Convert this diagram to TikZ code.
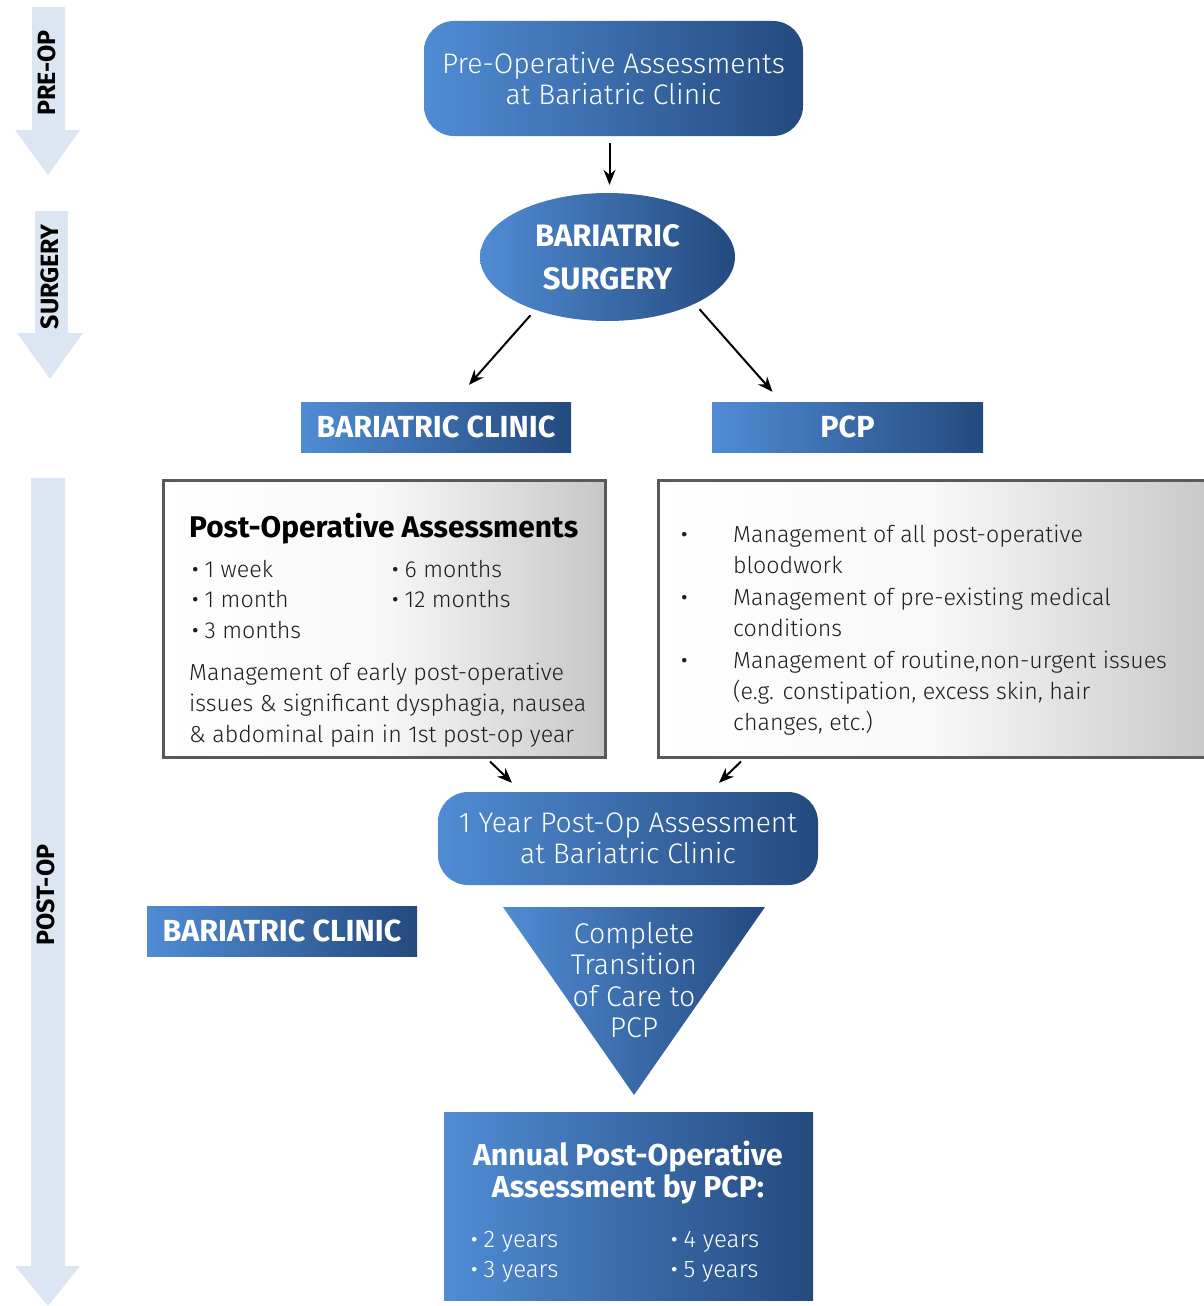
\documentclass[tikz,border=0pt]{standalone}
\usepackage{fontspec}
\usetikzlibrary{shapes.geometric,arrows.meta}
\IfFontExistsTF{Fira Sans Light}{\newfontfamily\lt{Fira Sans Light}}{\newfontfamily\lt{Fira Sans}}
\newfontfamily\sidefam{Fira Sans}
\newcommand\bd{\sidefam\bfseries}
\definecolor{blueL}{RGB}{80,140,212}
\definecolor{blueR}{RGB}{36,74,126}
\definecolor{sidec}{RGB}{220,230,242}
\definecolor{boxgray}{RGB}{89,89,89}
\definecolor{textc}{RGB}{30,30,30}
\newcommand\bul{{\sidefam\fontsize{20}{20}\selectfont\raisebox{1pt}{•}}\hspace{6pt}}
\begin{document}
\begin{tikzpicture}[x=1pt,y=-1pt,
  bluegrad/.style={left color=blueL,right color=blueR,draw=none},
  roundbox/.style={bluegrad,rounded corners=30pt,inner sep=0pt,text=white,align=center,
     font=\lt\fontsize{28.3}{31.5}\selectfont},
  flatbox/.style={bluegrad,inner sep=0pt,text=white,align=center,font=\bd\fontsize{30.5}{32}\selectfont},
  graybox/.style={draw=boxgray,line width=3pt,left color=white,right color=black!22,middle color=black!3,inner sep=0pt},
  sidelbl/.style={rotate=90,inner sep=0pt,font=\sidefam\bfseries\fontsize{25}{25}\selectfont,text=black},
  conn/.style={-{Stealth[length=15pt,width=12pt]},line width=2pt},
  txt/.style={anchor=base west,inner sep=0pt,font=\lt\fontsize{23.2}{31.5}\selectfont,text=textc},
  wtxt/.style={anchor=base west,inner sep=0pt,font=\lt\fontsize{24}{31.5}\selectfont,text=white}]
\path[use as bounding box] (0,0) rectangle (1204,1306);
\clip (0,0) rectangle (1204,1306);
% side arrows
\fill[sidec] (32,7) -- (65,7) -- (65,130) -- (80,130) -- (48,175) -- (15,130) -- (32,130) -- cycle;
\fill[sidec] (35,211) -- (68,211) -- (68,333) -- (83,333) -- (50,379) -- (17,333) -- (35,333) -- cycle;
\fill[sidec] (31,478) -- (65,478) -- (65,1266) -- (80,1266) -- (48,1306) -- (15,1266) -- (31,1266) -- cycle;
\node[sidelbl] (lpre) at (47,73) {PRE-OP};
\node[sidelbl] (lsurg) at (50,277) {SURGERY};
\node[sidelbl] (lpost) at (46,895) {POST-OP};
% top
\node[roundbox,minimum width=379pt,minimum height=115pt] (pre) at (613.5,78.5) {\raisebox{-2pt}{Pre-Operative Assessments}\\\raisebox{-2pt}{at Bariatric Clinic}};
\node[ellipse,bluegrad,minimum width=255pt,minimum height=128pt,inner sep=0pt,text=white,align=center,
  font=\bd\fontsize{31}{43}\selectfont] (surg) at (607.5,257) {BARIATRIC\\SURGERY};
\node[flatbox,minimum width=270pt,minimum height=50pt] (bc1) at (436,427) {BARIATRIC CLINIC};
\node[flatbox,minimum width=271pt,minimum height=50pt] (pcp) at (847.5,427) {PCP};
\draw[conn] ([xshift=-4pt,yshift=-7pt]pre.south) -- ([xshift=2pt,yshift=8pt]surg.north);
\draw[conn] ([xshift=-77pt,yshift=6pt]surg.south) -- ([xshift=33pt,yshift=17pt]bc1.north);
\draw[conn] ([xshift=92pt,yshift=12pt]surg.south) -- ([xshift=-75pt,yshift=10pt]pcp.north);
% gray boxes
\node[graybox,minimum width=442pt,minimum height=277pt] (postL) at (384,618.5) {};
\node[graybox,minimum width=562pt,minimum height=277pt] (postR) at (939,618.5) {};
\node[anchor=base west,inner sep=0pt,font=\bd\fontsize{29.9}{32}\selectfont,text=black] (tL) at (189,537) {Post-Operative Assessments};
\node[txt] (a1) at (192,577) {\bul 1 week};
\node[txt] (a2) at (192,607) {\bul 1 month};
\node[txt] (a3) at (192,638) {\bul 3 months};
\node[txt] (a4) at (392,577) {\bul 6 months};
\node[txt] (a5) at (392,607) {\bul 12 months};
\node[txt] (p1) at (189,680) {Management of early post-operative};
\node[txt] (p2) at (189,711) {issues \& significant dysphagia, nausea};
\node[txt] (p3) at (189,742) {\& abdominal pain in 1st post-op year};
\node[txt] (b1) at (681,542) {\bul};
\node[txt] (b2) at (681,605) {\bul};
\node[txt] (b3) at (681,668) {\bul};
\node[txt] (r1) at (733,542) {Management of all post-operative};
\node[txt] (r2) at (733,573) {bloodwork};
\node[txt] (r3) at (733,605) {Management of pre-existing medical};
\node[txt] (r4) at (733,636) {conditions};
\node[txt] (r5) at (733,668) {Management of routine,non-urgent issues};
\node[txt] (r6) at (733,699) {(e.g. constipation, excess skin, hair};
\node[txt] (r7) at (733,730) {changes, etc.)};
% one year
\node[roundbox,minimum width=380pt,minimum height=93pt] (oneyear) at (628,838.5) {1 Year Post-Op Assessment\\at Bariatric Clinic};
\draw[conn] ([xshift=106pt,yshift=-3pt]postL.south) -- ([xshift=-116pt,yshift=9pt]oneyear.north);
\draw[conn] ([xshift=-198pt,yshift=-3pt]postR.south) -- ([xshift=91pt,yshift=9pt]oneyear.north);
\node[flatbox,minimum width=270pt,minimum height=50pt] (bc2) at (282,931) {BARIATRIC CLINIC};
\shade[bluegrad] (503,907) -- (765,907) -- (634,1095) -- cycle;
\node[inner sep=0pt,text=white,align=center,font=\lt\fontsize{28.5}{31.2}\selectfont] (tri) at (634,980) {Complete\\Transition\\of Care to\\PCP};
% annual
\node[bluegrad,minimum width=369pt,minimum height=188pt,inner sep=0pt] (annual) at (628.5,1206) {};
\node[inner sep=0pt,text=white,align=center,font=\bd\fontsize{30.2}{32}\selectfont] (anT) at (628,1173) {Annual Post-Operative\\Assessment by PCP:};
\node[wtxt] (y1) at (471,1247) {\bul 2 years};
\node[wtxt] (y2) at (471,1277) {\bul 3 years};
\node[wtxt] (y3) at (671,1247) {\bul 4 years};
\node[wtxt] (y4) at (671,1277) {\bul 5 years};
\end{tikzpicture}
\end{document}
